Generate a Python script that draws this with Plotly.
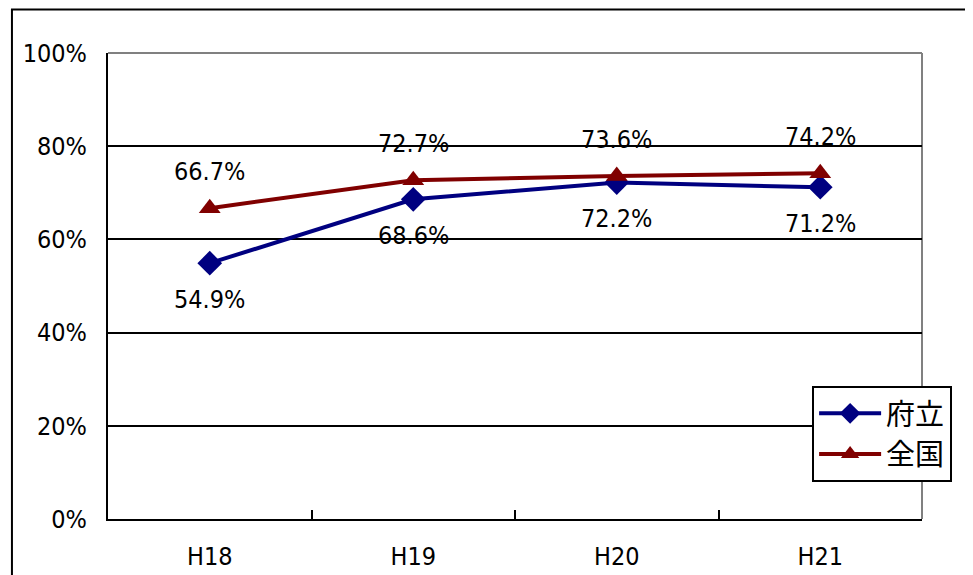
import plotly.graph_objects as go

categories = ["H18", "H19", "H20", "H21"]
furitsu = [54.9, 68.6, 72.2, 71.2]
zenkoku = [66.7, 72.7, 73.6, 74.2]
y_ticks = [0, 20, 40, 60, 80, 100]
y_tick_labels = ["0%", "20%", "40%", "60%", "80%", "100%"]
series_names = ["府立", "全国"]

NUM_FONT = "DejaVu Sans Condensed, sans-serif"
JP_FONT = "Noto Sans CJK JP, sans-serif"
NUM_SIZE = 25

fig = go.Figure()
fig.add_trace(go.Scatter(
    x=categories, y=furitsu, name=series_names[0], mode="lines+markers",
    line=dict(color="#000080", width=4),
    marker=dict(symbol="diamond", size=19, color="#000080"),
))
fig.add_trace(go.Scatter(
    x=categories, y=zenkoku, name=series_names[1], mode="lines+markers",
    line=dict(color="#800000", width=4),
    marker=dict(symbol="triangle-up", size=19, color="#800000"),
))

annotations = []
for c, v in zip(categories, zenkoku):
    annotations.append(dict(x=c, y=v, text=f"{v:.1f}%", showarrow=False,
                            yshift=37, font=dict(family=NUM_FONT, size=NUM_SIZE, color="black")))
for c, v in zip(categories, furitsu):
    annotations.append(dict(x=c, y=v, text=f"{v:.1f}%", showarrow=False,
                            yshift=-36, font=dict(family=NUM_FONT, size=NUM_SIZE, color="black")))

fig.update_layout(
    width=965, height=567,
    margin=dict(l=100, r=51, t=45, b=56),
    paper_bgcolor="white", plot_bgcolor="white",
    showlegend=True,
    legend=dict(x=0.865, y=0.2854, xanchor="left", yanchor="top",
                bgcolor="white", bordercolor="black", borderwidth=2,
                font=dict(family=JP_FONT, size=29, color="black"),
                itemwidth=62, tracegroupgap=0),
    annotations=annotations,
    xaxis=dict(type="category", range=[-0.5, 3.5], showgrid=False,
               showline=True, linecolor="black", linewidth=2,
               ticks="inside", ticklen=9, tickwidth=2, tickcolor="black",
               tickson="boundaries", ticklabelstandoff=14, automargin=False,
               tickfont=dict(family=NUM_FONT, size=NUM_SIZE, color="black")),
    yaxis=dict(range=[0, 100], tickvals=y_ticks, ticktext=y_tick_labels,
               showgrid=True, gridcolor="black", gridwidth=2,
               showline=True, linecolor="black", linewidth=2,
               ticks="inside", ticklen=9, tickwidth=2, tickcolor="black",
               ticklabelstandoff=14, zeroline=False, automargin=False,
               tickfont=dict(family=NUM_FONT, size=NUM_SIZE, color="black")),
    shapes=[
        dict(type="line", xref="paper", yref="paper", x0=0, x1=1, y0=1, y1=1,
             line=dict(color="#808080", width=2), layer="below"),
        dict(type="line", xref="paper", yref="paper", x0=1, x1=1, y0=0, y1=1,
             line=dict(color="#808080", width=2), layer="below"),
        dict(type="rect", xref="paper", yref="paper",
             x0=-0.118, x1=1.09, y0=-0.14, y1=1.0935,
             line=dict(color="black", width=2), fillcolor="rgba(0,0,0,0)"),
    ],
)

fig.write_html("out.html")
